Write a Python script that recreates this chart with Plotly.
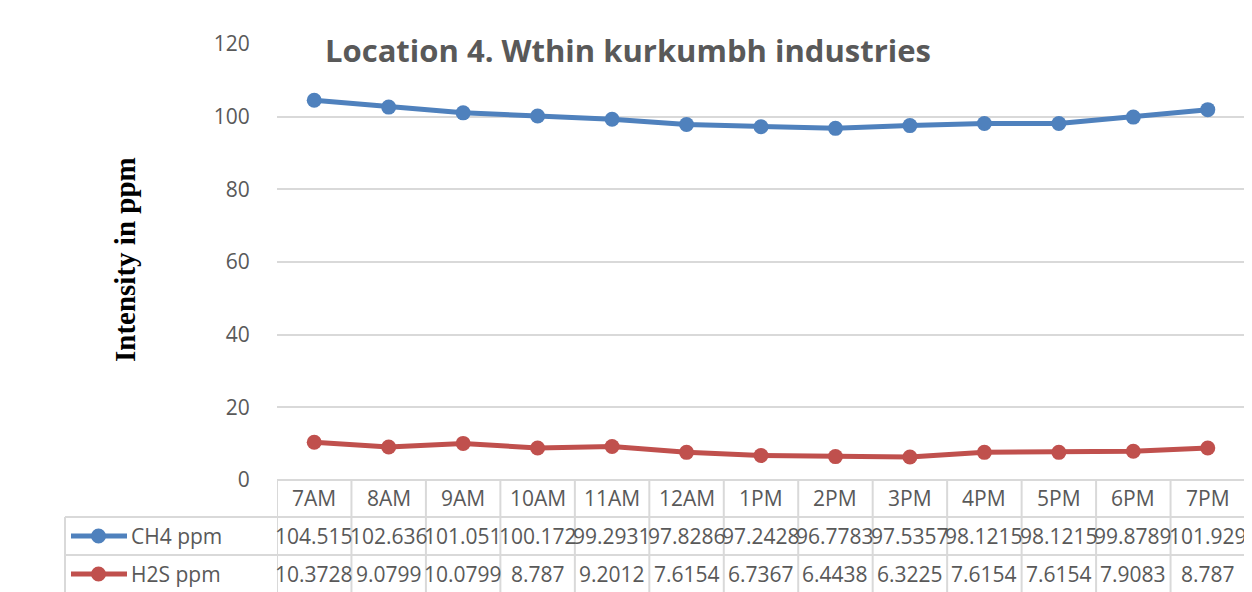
import plotly.graph_objects as go

# ---- data ----
times = ["7AM", "8AM", "9AM", "10AM", "11AM", "12AM", "1PM", "2PM", "3PM", "4PM", "5PM", "6PM", "7PM"]
ch4_ppm = [104.515, 102.636, 101.051, 100.172, 99.2931, 97.8286, 97.2428, 96.7783, 97.5357, 98.1215, 98.1215, 99.8789, 101.929]
h2s_ppm = [10.3728, 9.0799, 10.0799, 8.787, 9.2012, 7.6154, 6.7367, 6.4438, 6.3225, 7.6154, 7.6154, 7.9083, 8.787]
series_names = ["CH4 ppm", "H2S ppm"]
series_colors = ["#4f81bd", "#c0504d"]
y_ticks = [0, 20, 40, 60, 80, 100, 120]
title_text = "Location 4. Wthin kurkumbh industries"
y_title = "Intensity in ppm"

# ---- layout geometry (page pixels; the page body has an 8px margin) ----
OFF = 8
W, H = 1252 - OFF, 592 - OFF
PL, PR, PT, PB = 277, 1245, 44, 480   # plot area in page pixels
L, T = PL - OFF, PT - OFF
R = W - (PR - OFF)
B = H - (PB - OFF)
PW, PH = PR - PL, PB - PT
GRID = "#d9d9d9"
TXT = "#595959"
FONT = "Open Sans"
FS = 21

def py(p):  # page pixel y -> paper y
    return (PB - p) / PH

def px(p):  # page pixel x -> paper x
    return (p - PL) / PW

fig = go.Figure()
x_idx = list(range(len(times)))
for name, vals, col in zip(series_names, [ch4_ppm, h2s_ppm], series_colors):
    fig.add_trace(go.Scatter(
        x=x_idx, y=vals, name=name, mode="lines+markers",
        line=dict(color=col, width=5),
        marker=dict(color=col, size=15),
        showlegend=False, cliponaxis=False,
    ))

shapes = []
annotations = []
# outer frame
shapes.append(dict(type="rect", xref="paper", yref="paper",
                   x0=px(6), x1=px(1247), y0=py(5), y1=py(640),
                   line=dict(color=GRID, width=2), layer="below"))
n = len(times)
# vertical table lines
for i in range(n + 1):
    shapes.append(dict(type="line", xref="x", yref="paper",
                       x0=i - 0.5, x1=i - 0.5, y0=py(480), y1=py(640),
                       line=dict(color=GRID, width=2)))
# left edge of the legend column
shapes.append(dict(type="line", xref="paper", yref="paper",
                   x0=px(65), x1=px(65), y0=py(517), y1=py(640),
                   line=dict(color=GRID, width=2)))
# horizontal row lines
shapes.append(dict(type="line", xref="x", yref="paper",
                   x0=-0.5, x1=n - 0.5, y0=py(480), y1=py(480),
                   line=dict(color=GRID, width=2)))
for r in [517, 555]:
    shapes.append(dict(type="line", xref="paper", yref="paper",
                       x0=px(65), x1=1.0, y0=py(r), y1=py(r),
                       line=dict(color=GRID, width=2)))

# header labels
for i, t in enumerate(times):
    annotations.append(dict(x=i, y=py(498), xref="x", yref="paper", text=t,
                            showarrow=False, font=dict(family=FONT, size=FS, color=TXT),
                            xanchor="center", yanchor="middle"))
# data rows
row_centers = [536, 574]
for vals, name, col, rc in zip([ch4_ppm, h2s_ppm], series_names, series_colors, row_centers):
    for i, v in enumerate(vals):
        annotations.append(dict(x=i, y=py(rc), xref="x", yref="paper", text=str(v),
                                showarrow=False, font=dict(family=FONT, size=FS, color=TXT),
                                xanchor="center", yanchor="middle"))
    # legend key
    shapes.append(dict(type="line", xref="paper", yref="paper",
                       x0=px(71), x1=px(127), y0=py(rc), y1=py(rc),
                       line=dict(color=col, width=5)))
    shapes.append(dict(type="circle", xref="paper", yref="paper",
                       x0=px(91), x1=px(106), y0=py(rc - 7.5), y1=py(rc + 7.5),
                       fillcolor=col, line=dict(color=col, width=0)))
    annotations.append(dict(x=px(129), y=py(rc), xref="paper", yref="paper", text=name,
                            showarrow=False, font=dict(family=FONT, size=FS, color=TXT),
                            xanchor="left", yanchor="middle"))

# title
annotations.append(dict(x=px(628), y=py(50), xref="paper", yref="paper", text="<b>" + title_text + "</b>",
                        showarrow=False, font=dict(family=FONT, size=31, color=TXT),
                        xanchor="center", yanchor="middle"))
# y axis title
annotations.append(dict(x=px(125), y=py(260), xref="paper", yref="paper", text="<b>" + y_title + "</b>",
                        showarrow=False, textangle=-90,
                        font=dict(family="Liberation Serif", size=29, color="#000000"),
                        xanchor="center", yanchor="middle"))

fig.update_layout(
    width=W, height=H,
    margin=dict(l=L, r=R, t=T, b=B),
    paper_bgcolor="white", plot_bgcolor="white",
    shapes=shapes, annotations=annotations,
    xaxis=dict(range=[-0.5, n - 0.5], showgrid=False, showticklabels=False,
               zeroline=False, showline=False, fixedrange=True),
    yaxis=dict(range=[0, 120], tickvals=y_ticks, showgrid=True, gridcolor=GRID, gridwidth=1.5,
               zeroline=False, showline=False,
               ticks="outside", ticklen=22, tickcolor="rgba(0,0,0,0)",
               tickfont=dict(family=FONT, size=FS, color=TXT)),
)

fig.write_html("out.html")
